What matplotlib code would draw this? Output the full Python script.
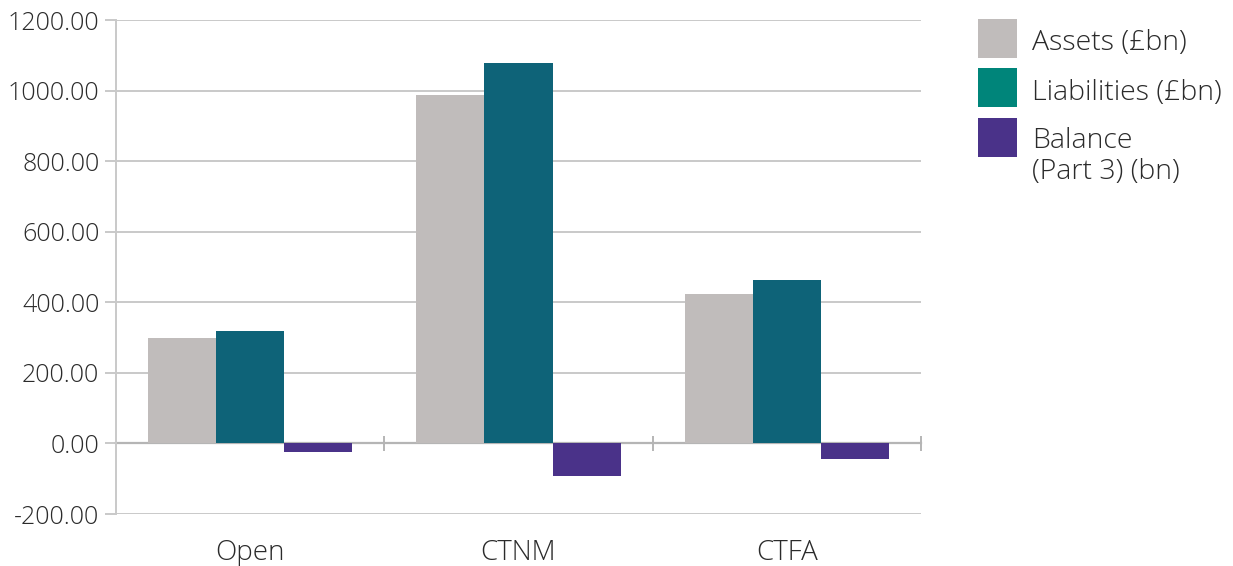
import numpy as np
import matplotlib
matplotlib.use("Agg")
import matplotlib.pyplot as plt
from matplotlib.patches import Rectangle

plt.rcParams['font.family'] = ['Open Sans', 'DejaVu Sans']
plt.rcParams['font.weight'] = 'light'

# fund groups and their figures (bn)
groups = ["Open", "CTNM", "CTFA"]
assets = [298, 988, 424]
liabilities = [318, 1078, 464]
balance = [-25, -91, -45]
series_names = ["Assets (£bn)", "Liabilities (£bn)", "Balance\n(Part 3) (bn)"]

bar_cols = ["#c0bcbb", "#0e6378", "#4a3289"]
legend_cols = ["#c0bcbb", "#00857a", "#4a3289"]
grid_col = "#c9c9c9"
text_col = "#2b2b2b"

W, H = 1233, 566
fig = plt.figure(figsize=(W / 100, H / 100), dpi=100)
ax = fig.add_axes([116 / W, 1 - 514 / H, (921 - 116) / W, (514 - 20) / H])

x = np.arange(len(groups))
w = 0.254
for i, vals in enumerate([assets, liabilities, balance]):
    ax.bar(x + (i - 1) * w, vals, width=w, color=bar_cols[i], zorder=3)

ax.set_xlim(-0.5, 2.5)
ax.set_ylim(-200, 1200)
ax.set_yticks(np.arange(-200, 1201, 200))
ax.yaxis.set_major_formatter(matplotlib.ticker.FormatStrFormatter('%.2f'))
ax.yaxis.grid(True, color=grid_col, linewidth=1.4, zorder=0)
ax.tick_params(axis='y', length=8, width=1.4, color=grid_col, labelsize=18,
               labelcolor=text_col, pad=4)

ax.set_xticks(x)
ax.set_xticklabels(groups)
ax.tick_params(axis='x', length=0, labelsize=20, labelcolor=text_col, pad=18)

for s in ["top", "right", "bottom"]:
    ax.spines[s].set_visible(False)
ax.spines["left"].set_color(grid_col)
ax.spines["left"].set_linewidth(1.4)

# zero line with category dividers
ax.axhline(0, color="#b5b5b5", linewidth=1.6, zorder=2, clip_on=False)
ax.vlines([0.5, 1.5, 2.5], -22, 22, color="#b5b5b5", linewidth=1.4, zorder=2, clip_on=False)

# legend: square swatches, first text line level with the swatch's middle
sw = 39
tops = [19, 68, 118]
for name, col, top in zip(series_names, legend_cols, tops):
    fig.add_artist(Rectangle((978 / W, 1 - (top + sw) / H), sw / W, sw / H,
                             transform=fig.transFigure, facecolor=col, edgecolor='none'))
    if "\n" in name:
        yc = top + 38.5
    else:
        yc = top + 24.5
    fig.text(1032 / W, 1 - yc / H, name, fontsize=20.5, color=text_col,
             va='center', ha='left', linespacing=1.12)

fig.savefig("out.png", dpi=100)
